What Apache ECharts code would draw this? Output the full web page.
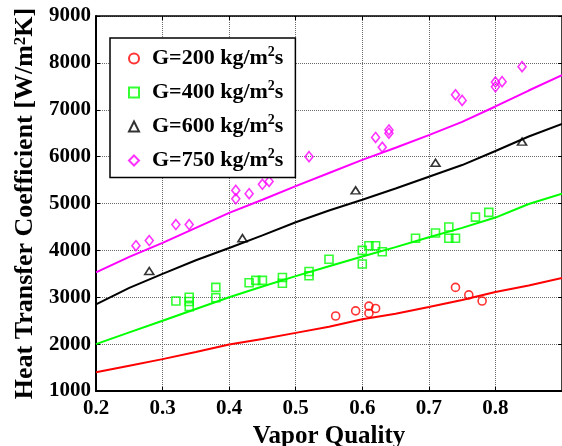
<!DOCTYPE html>
<html>
<head>
<meta charset="utf-8">
<script src="https://cdn.jsdelivr.net/npm/echarts@6/dist/echarts.min.js"></script>
<style>
  html, body { margin: 0; padding: 0; background: #fff; }
  #J_chartBox { width: 562px; height: 446px; }
</style>
</head>
<body>
<div id="J_chartBox"></div>
<script>
  // model curves
  var modelX = [0.2, 0.25, 0.3, 0.35, 0.4, 0.45, 0.5, 0.55, 0.6, 0.65, 0.7, 0.75, 0.8, 0.85, 0.9]
  var model200 = [1400, 1540, 1680, 1830, 1990, 2110, 2240, 2370, 2530, 2650, 2790, 2940, 3110, 3250, 3410]
  var model400 = [2000, 2250, 2500, 2750, 3000, 3230, 3450, 3660, 3870, 4070, 4280, 4480, 4700, 4990, 5210]
  var model600 = [2850, 3200, 3500, 3790, 4050, 4320, 4600, 4850, 5080, 5320, 5570, 5820, 6120, 6430, 6700]
  var model750 = [3530, 3860, 4160, 4480, 4800, 5080, 5370, 5650, 5930, 6190, 6460, 6740, 7070, 7410, 7740]

  // measured points
  var x200 = [0.56, 0.59, 0.61, 0.61, 0.62, 0.74, 0.76, 0.78]
  var h200 = [2600, 2710, 2810, 2660, 2760, 3210, 3050, 2920]
  var x400 = [0.32, 0.34, 0.34, 0.34, 0.38, 0.38, 0.43, 0.44, 0.45, 0.48, 0.48, 0.52, 0.52, 0.55, 0.60, 0.60, 0.61, 0.62, 0.63, 0.68, 0.71, 0.73, 0.73, 0.74, 0.77, 0.79]
  var h400 = [2920, 3000, 2910, 2800, 3210, 2990, 3310, 3360, 3360, 3420, 3300, 3550, 3460, 3810, 4000, 3710, 4100, 4100, 3970, 4260, 4370, 4500, 4260, 4260, 4710, 4810]
  var x600 = [0.28, 0.42, 0.59, 0.71, 0.84]
  var h600 = [3560, 4260, 5280, 5870, 6320]
  var x750 = [0.26, 0.28, 0.32, 0.34, 0.41, 0.41, 0.43, 0.45, 0.46, 0.52, 0.62, 0.63, 0.64, 0.64, 0.74, 0.75, 0.80, 0.80, 0.81, 0.84]
  var h750 = [4100, 4210, 4550, 4550, 5280, 5100, 5210, 5410, 5470, 6000, 6410, 6200, 6570, 6500, 7320, 7200, 7590, 7490, 7600, 7920]

  var legendNames = ['G=200', 'G=400', 'G=600', 'G=750']
  var colors = ['#ff0000', '#00ff00', '#000000', '#ff00ff']

  var FONT = 'Liberation Serif'

  function zip (xs, ys) {
    return xs.map(function (x, i) { return [x, ys[i]] })
  }

  function lineSeries (ys, color) {
    return {
      type: 'line',
      data: zip(modelX, ys),
      showSymbol: false,
      silent: true,
      z: 2,
      lineStyle: { color: color, width: 2 },
      itemStyle: { color: color }
    }
  }

  function pointSeries (name, xs, ys, color, symbol, size) {
    return {
      name: name,
      type: 'scatter',
      data: zip(xs, ys),
      symbol: symbol,
      symbolSize: size,
      z: 3,
      itemStyle: { color: 'rgba(255,255,255,0)', borderColor: color, borderWidth: 1.6 }
    }
  }

  var gridLine = { show: true, lineStyle: { color: '#6a6a6a', width: 1, type: 'dotted' } }

  var option = {
    animation: false,
    backgroundColor: '#fff',
    grid: { left: 96, top: 16, right: 0, bottom: 55, outerBoundsMode: 'none' },
    legend: {
      data: legendNames,
      orient: 'vertical',
      left: 110,
      top: 38,
      padding: [7, 12, 6, 18],
      itemGap: 9.5,
      itemWidth: 10,
      itemHeight: 10,
      selectedMode: false,
      backgroundColor: '#fff',
      borderColor: '#000',
      borderWidth: 1.5,
      borderRadius: 0,
      formatter: function (name) {
        return '{a|' + name + ' kg/m}{sup|2}{a|s}'
      },
      textStyle: {
        padding: [0, 0, 0, 8],
        rich: {
          a: { fontFamily: FONT, fontWeight: 'bold', fontSize: 22, lineHeight: 27, color: '#000' },
          sup: { fontFamily: FONT, fontWeight: 'bold', fontSize: 14, lineHeight: 14, verticalAlign: 'top', color: '#000' }
        }
      }
    },
    xAxis: [{
      type: 'value',
      min: 0.2,
      max: 0.9,
      interval: 0.1,
      name: 'Vapor Quality',
      nameLocation: 'middle',
      nameGap: 22,
      nameTextStyle: { fontFamily: FONT, fontWeight: 'bold', fontSize: 25, color: '#000' },
      axisLine: { onZero: false, lineStyle: { color: '#000', width: 2 } },
      axisTick: { inside: true, length: 4, lineStyle: { color: '#000' } },
      axisLabel: {
        margin: 7,
        showMaxLabel: false,
        fontFamily: FONT,
        fontWeight: 'bold',
        fontSize: 21,
        color: '#000',
        formatter: function (v) { return v.toFixed(1) }
      },
      splitLine: gridLine
    }, {
      type: 'value',
      position: 'top',
      min: 0.2,
      max: 0.9,
      interval: 0.1,
      axisLine: { lineStyle: { color: '#000', width: 1.5 } },
      axisTick: { inside: true, length: 4, lineStyle: { color: '#000' } },
      axisLabel: { show: false },
      splitLine: { show: false }
    }],
    yAxis: [{
      type: 'value',
      min: 1000,
      max: 9000,
      interval: 1000,
      name: 'Heat Transfer Coefficient [W/m{sup|2}K]',
      nameLocation: 'middle',
      nameGap: 54,
      nameTextStyle: {
        fontFamily: FONT,
        fontWeight: 'bold',
        fontSize: 26,
        color: '#000',
        rich: {
          sup: { fontFamily: FONT, fontWeight: 'bold', fontSize: 17, lineHeight: 17, verticalAlign: 'top', color: '#000' }
        }
      },
      axisLine: { onZero: false, lineStyle: { color: '#000', width: 2 } },
      axisTick: { inside: true, length: 4, lineStyle: { color: '#000' } },
      axisLabel: {
        margin: 5,
        fontFamily: FONT,
        fontWeight: 'bold',
        fontSize: 21,
        color: '#000',
        formatter: function (v) { return String(v) }
      },
      splitLine: gridLine
    }, {
      type: 'value',
      position: 'right',
      min: 1000,
      max: 9000,
      interval: 1000,
      axisLine: { show: true, lineStyle: { color: '#000', width: 1.5 } },
      axisTick: { show: true, inside: true, length: 4, lineStyle: { color: '#000' } },
      axisLabel: { show: false },
      splitLine: { show: false }
    }],
    series: [
      lineSeries(model200, colors[0]),
      lineSeries(model400, colors[1]),
      lineSeries(model600, colors[2]),
      lineSeries(model750, colors[3]),
      pointSeries(legendNames[0], x200, h200, colors[0], 'circle', 8),
      pointSeries(legendNames[1], x400, h400, colors[1], 'rect', 8),
      pointSeries(legendNames[2], x600, h600, colors[2], 'triangle', [9, 7]),
      pointSeries(legendNames[3], x750, h750, colors[3], 'diamond', [8, 10])
    ]
  }

  var chart = echarts.init(document.getElementById('J_chartBox'))
  chart.setOption(option)
</script>
</body>
</html>
